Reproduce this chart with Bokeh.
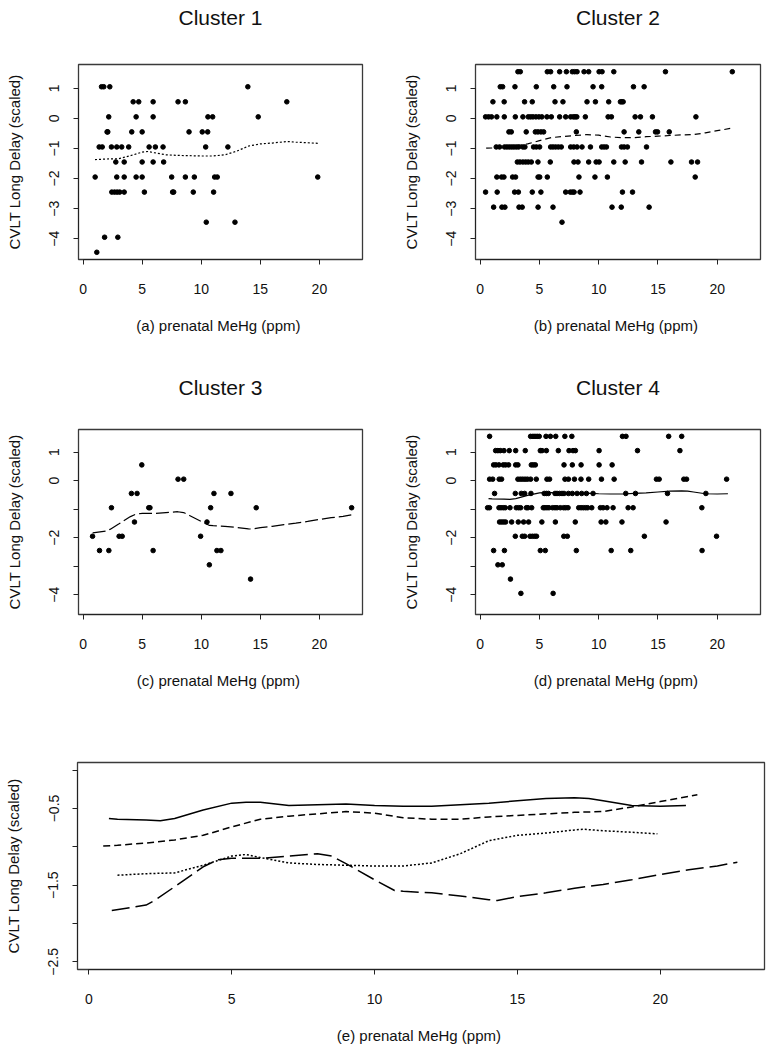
from bokeh.plotting import figure
from bokeh.models import Range1d, FixedTicker, LinearAxis
from bokeh.layouts import column, row
from bokeh.embed import file_html
from bokeh.resources import INLINE

FONT = "Liberation Sans"

# ---------------- data ----------------
levels = [1.55, 1.05, 0.55, 0.05, -0.45, -0.95, -1.45, -1.95, -2.45, -2.95, -3.45, -3.95, -4.45]

# x values (prenatal MeHg) of the points on each score level, top to bottom
c1_rows = [
    [],
    [1.55, 1.74, 2.25, 13.94],
    [4.23, 4.70, 5.92, 8.03, 8.65, 17.24],
    [2.16, 4.48, 5.92, 10.56, 10.96, 14.82],
    [2.02, 2.08, 4.11, 4.99, 8.96, 10.08, 10.54],
    [1.35, 1.61, 2.39, 2.84, 3.26, 3.85, 5.58, 6.11, 6.76, 10.37, 12.25],
    [2.76, 3.47, 4.99, 5.92, 6.81],
    [1.01, 2.84, 3.47, 4.48, 4.99, 7.49, 8.65, 9.41, 11.13, 11.35, 19.86],
    [2.42, 2.65, 2.87, 3.09, 3.47, 5.18, 7.57, 7.66, 9.32, 11.04],
    [],
    [10.42, 12.85],
    [1.81, 2.93],
    [1.15],
]
c2_rows = [
    [3.18, 3.38, 5.66, 5.94, 6.70, 7.27, 7.77, 7.97, 8.17, 8.76, 9.15, 10.03, 10.28, 11.27, 15.63, 21.27],
    [1.69, 1.89, 2.93, 4.73, 6.20, 7.32, 9.52, 10.25, 12.93, 13.83],
    [1.07, 2.02, 3.74, 4.39, 6.31, 6.98, 9.01, 9.72, 10.84, 11.83, 11.95, 12.06],
    [0.45, 0.70, 0.95, 1.40, 2.03, 2.96, 3.60, 4.05, 4.25, 4.45, 4.70, 4.95, 5.20, 5.63, 6.00, 6.70,
     7.21, 7.63, 7.85, 8.00, 8.15, 8.87, 10.79, 11.07, 13.07, 13.52, 14.53, 18.20],
    [2.42, 2.62, 3.88, 4.65, 4.87, 5.12, 5.35, 8.11, 12.14, 13.38, 14.79, 14.96, 15.95],
    [1.35, 1.63, 2.05, 2.25, 2.45, 2.65, 2.84, 3.04, 3.24, 3.60, 3.77, 4.50, 4.73, 5.01, 5.94, 6.14,
     6.36, 6.59, 6.84, 7.63, 7.89, 8.17, 8.59, 9.30, 10.25, 10.45, 10.65, 11.92, 12.14, 12.42, 14.03],
    [3.13, 3.35, 3.60, 3.83, 4.05, 4.31, 4.87, 5.91, 7.91, 8.25, 9.15, 9.78, 10.03, 11.27, 12.23,
     13.61, 16.09, 17.83, 18.34],
    [1.40, 1.80, 2.00, 2.73, 2.98, 4.88, 5.02, 5.66, 8.33, 9.68, 10.73, 18.14],
    [0.45, 1.43, 2.90, 3.22, 4.39, 5.12, 7.21, 7.60, 7.78, 7.92, 8.42, 12.00, 12.85],
    [1.13, 1.83, 2.08, 3.27, 3.54, 4.88, 6.14, 11.12, 11.90, 14.25],
    [6.90],
    [],
    [],
]
c3_rows = [
    [],
    [],
    [4.96],
    [8.03, 8.51],
    [4.08, 4.56, 11.07, 12.51],
    [2.39, 5.55, 5.65, 10.79, 14.65, 22.73],
    [4.34, 10.48],
    [0.79, 3.04, 3.30, 9.94],
    [1.38, 2.17, 5.92, 11.32, 11.66],
    [10.68],
    [14.17],
    [],
    [],
]
c4_rows = [
    [0.79, 4.25, 4.45, 4.62, 4.80, 4.98, 5.55, 5.92, 6.37, 7.14, 7.73, 12.00, 12.30, 15.90, 17.00],
    [1.30, 1.49, 1.69, 2.00, 2.45, 2.99, 3.80, 5.07, 5.21, 5.58, 6.59, 7.49, 7.83, 8.03, 10.03, 13.27, 16.85],
    [1.13, 1.32, 1.58, 1.94, 2.14, 2.39, 2.99, 3.18, 4.31, 4.48, 4.65, 7.07, 7.77, 8.51, 10.03, 11.13],
    [0.79, 1.05, 1.60, 1.80, 3.18, 3.38, 3.58, 3.78, 3.98, 4.25, 4.73, 5.63, 5.85, 7.15, 7.44, 7.95,
     8.50, 9.15, 10.23, 11.30, 14.87, 15.10, 17.18, 17.41, 20.79],
    [1.21, 2.96, 3.46, 3.75, 4.28, 5.40, 5.58, 5.75, 6.31, 6.48, 6.70, 6.90, 7.07, 7.44, 7.77, 8.17,
     8.56, 8.96, 9.52, 12.28, 13.10, 15.80, 19.04],
    [0.62, 0.78, 1.58, 1.75, 1.94, 2.11, 2.51, 3.04, 3.24, 3.41, 3.89, 4.03, 4.34, 5.32, 5.46, 5.63,
     5.80, 6.11, 6.31, 6.48, 6.76, 7.04, 7.21, 7.41, 8.31, 8.51, 8.70, 8.90, 9.07, 9.41, 10.14, 10.37,
     10.70, 11.21, 12.48, 12.90, 18.70],
    [1.63, 1.80, 1.97, 2.14, 2.65, 3.21, 3.66, 4.08, 5.20, 6.34, 8.02, 10.20, 10.60, 11.96, 15.68],
    [2.96, 3.55, 3.75, 4.20, 4.40, 4.60, 4.75, 7.05, 7.35, 13.85, 19.94],
    [1.13, 2.04, 5.07, 5.49, 8.11, 11.05, 12.70, 18.72],
    [1.49, 1.86],
    [2.55],
    [3.43, 6.15],
    [],
]

# smoothed fits
c1_fit_x = [1.0, 2, 3, 4, 5, 5.5, 6, 7, 8, 9, 10, 11, 12, 13, 14, 15, 16, 17, 17.3, 18, 19, 19.9]
c1_fit_y = [-1.37, -1.35, -1.34, -1.24, -1.12, -1.10, -1.14, -1.21, -1.23, -1.24, -1.25, -1.25,
            -1.21, -1.09, -0.92, -0.85, -0.82, -0.78, -0.77, -0.79, -0.81, -0.83]
c2_fit_x = [0.5, 1, 2, 3, 4, 5, 6, 7, 8, 9, 10, 11, 12, 13, 14, 15, 16, 17, 18, 19, 20, 21.3]
c2_fit_y = [-0.99, -0.98, -0.95, -0.91, -0.85, -0.74, -0.64, -0.60, -0.57, -0.54, -0.56, -0.62,
            -0.64, -0.64, -0.61, -0.59, -0.57, -0.55, -0.54, -0.48, -0.41, -0.32]
c3_fit_x = [0.8, 2, 2.3, 3, 4, 4.5, 5, 6, 7, 8, 8.5, 9, 10, 10.7, 11, 12, 13, 14, 14.3, 15, 16,
            17, 18, 19, 20, 21, 22, 22.7]
c3_fit_y = [-1.83, -1.76, -1.70, -1.52, -1.26, -1.17, -1.15, -1.15, -1.12, -1.09, -1.12, -1.22,
            -1.43, -1.57, -1.58, -1.60, -1.64, -1.69, -1.70, -1.65, -1.60, -1.54, -1.49, -1.43,
            -1.36, -1.30, -1.25, -1.20]
c4_fit_x = [0.7, 1, 2, 2.5, 3, 4, 5, 5.5, 6, 7, 8, 9, 10, 11, 12, 13, 14, 15, 16, 17, 17.5, 18,
            19, 20, 20.9]
c4_fit_y = [-0.63, -0.64, -0.65, -0.66, -0.63, -0.52, -0.43, -0.42, -0.42, -0.46, -0.45, -0.44,
            -0.46, -0.47, -0.47, -0.45, -0.43, -0.40, -0.37, -0.36, -0.37, -0.40, -0.46, -0.47, -0.46]

titles = ["Cluster 1", "Cluster 2", "Cluster 3", "Cluster 4"]
xlabels = ["(a)  prenatal MeHg (ppm)", "(b)  prenatal MeHg (ppm)",
           "(c)  prenatal MeHg (ppm)", "(d)  prenatal MeHg (ppm)", "(e)  prenatal MeHg (ppm)"]
ylabel = "CVLT Long Delay (scaled)"
x_ticks = [0, 5, 10, 15, 20]
y_ticks = [-4, -3, -2, -1, 0, 1]
y_ticks_e = [-2.5, -2.0, -1.5, -1.0, -0.5, 0.0]

MINUS = "\u2212"


def fmt(v):
    s = ("%g" % v)
    return s.replace("-", MINUS)


def flatten(rows):
    xs, ys = [], []
    for lev, r in zip(levels, rows):
        for xv in r:
            xs.append(xv)
            ys.append(lev)
    return xs, ys


def style(p, xlabel, ylab_show, ybounds, yticks):
    p.grid.visible = False
    p.outline_line_color = "#3a3a3a"
    p.outline_line_width = 1.3
    p.background_fill_color = "white"
    p.border_fill_color = "white"
    for ax in (p.xaxis[0], p.yaxis[0]):
        ax.axis_line_color = "#222222"
        ax.major_tick_line_color = "#222222"
        ax.major_tick_out = 5
        ax.major_tick_in = 0
        ax.minor_tick_line_color = None
        ax.major_label_text_font = FONT
        ax.major_label_text_font_size = "14px"
        ax.major_label_text_color = "#111111"
        ax.axis_label_text_font = FONT
        ax.axis_label_text_font_size = "15px"
        ax.axis_label_text_font_style = "normal"
        ax.axis_label_text_color = "#111111"
    xa = p.xaxis[0]
    xa.ticker = FixedTicker(ticks=x_ticks)
    xa.bounds = (0, 20)
    xa.axis_label = xlabel
    xa.major_label_standoff = 19
    xa.axis_label_standoff = 20
    ya = p.yaxis[0]
    ya.ticker = FixedTicker(ticks=yticks)
    ya.bounds = ybounds
    ya.axis_label = ylabel
    ya.major_label_orientation = "vertical"
    ya.major_label_standoff = 14
    ya.axis_label_standoff = 24
    ya.major_label_overrides = {float(t): (fmt(t) if t in ylab_show else "") for t in yticks}


def add_title(p, text, standoff):
    # an empty top axis carries the panel title as its label
    ax = LinearAxis(ticker=FixedTicker(ticks=[]), axis_label=text)
    ax.axis_line_color = None
    ax.major_tick_line_color = None
    ax.minor_tick_line_color = None
    ax.major_tick_out = 0
    ax.major_label_standoff = 0
    ax.axis_label_standoff = standoff
    ax.axis_label_text_font = FONT
    ax.axis_label_text_font_size = "21px"
    ax.axis_label_text_font_style = "normal"
    ax.axis_label_text_color = "#111111"
    p.add_layout(ax, "above")


def panel(i, rows, fx, fy, dash, fw, fh, bl, br, bt, bb, show, tstand):
    p = figure(x_range=Range1d(-0.4, 23.65), y_range=Range1d(-4.69, 1.79),
               frame_width=fw, frame_height=fh,
               min_border_left=bl, min_border_right=br, min_border_top=bt, min_border_bottom=bb,
               output_backend="svg", toolbar_location=None, tools="")
    xs, ys = flatten(rows)
    p.scatter(xs, ys, size=4.6, color="black")
    p.line(fx, fy, line_color="black", line_width=1.2, line_dash=dash)
    style(p, xlabels[i], show, (-4, 1), y_ticks)
    add_title(p, titles[i], tstand)
    return p


all_y = [-4, -3, -2, -1, 0, 1]
sparse_y = [-4, -2, 0, 1]

p1 = panel(0, c1_rows, c1_fit_x, c1_fit_y, "2 2", 284, 195, 78, 36, 64, 113, all_y, 36)
p2 = panel(1, c2_rows, c2_fit_x, c2_fit_y, "6 4", 285, 195, 77, 6, 64, 113, all_y, 36)
p3 = panel(2, c3_rows, c3_fit_x, c3_fit_y, "13 4", 284, 185, 78, 36, 57, 86, sparse_y, 31)
p4 = panel(3, c4_rows, c4_fit_x, c4_fit_y, "solid", 285, 185, 77, 6, 57, 86, sparse_y, 31)

p5 = figure(x_range=Range1d(-0.4, 23.65), y_range=Range1d(-2.6, 0.1),
            frame_width=687, frame_height=207,
            min_border_left=77, min_border_right=4, min_border_top=62, min_border_bottom=81,
            output_backend="svg", toolbar_location=None, tools="")
p5.line(c4_fit_x, c4_fit_y, line_color="black", line_width=1.5)
p5.line(c2_fit_x, c2_fit_y, line_color="black", line_width=1.5, line_dash="7 4")
p5.line(c1_fit_x, c1_fit_y, line_color="black", line_width=1.5, line_dash="2 2")
p5.line(c3_fit_x, c3_fit_y, line_color="black", line_width=1.5, line_dash="18 6")
style(p5, xlabels[4], [-2.5, -1.5, -0.5], (-2.5, 0), y_ticks_e)

layout = column(row(p1, p2), row(p3, p4), p5)
open("out.html", "w").write(file_html(layout, INLINE))
